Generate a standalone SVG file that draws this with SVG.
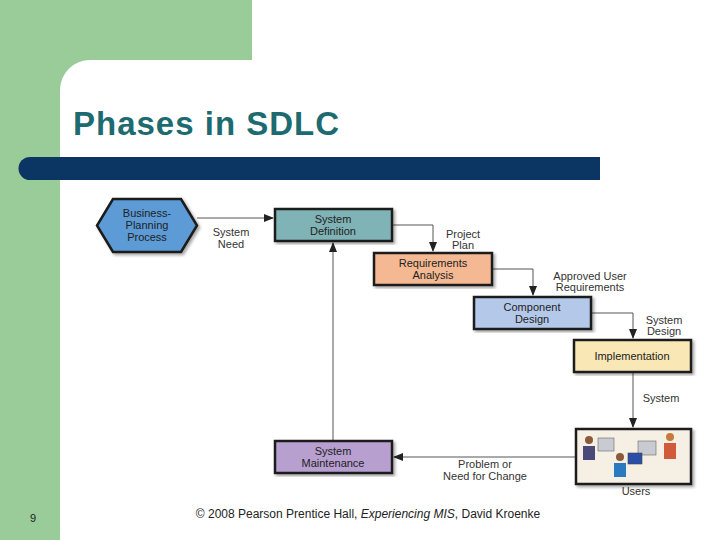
<svg xmlns="http://www.w3.org/2000/svg" width="720" height="540" viewBox="0 0 720 540">
<style>
.n{stroke:#1a1a1a;stroke-width:2.5}
.t{font-family:"Liberation Sans",Arial,sans-serif;font-size:11px;text-anchor:middle;fill:#222}
.l{font-family:"Liberation Sans",Arial,sans-serif;font-size:11px;text-anchor:middle;fill:#333}
.c{fill:none;stroke:#555;stroke-width:1}
</style>
<defs>
<marker id="a" markerWidth="10" markerHeight="8" refX="9" refY="4" orient="auto" markerUnits="userSpaceOnUse"><path d="M0,0L10,4L0,8z" fill="#222"/></marker>
<filter id="s"><feDropShadow dx="2" dy="2" stdDeviation="1.5" flood-opacity="0.35"/></filter>
</defs>
<rect width="720" height="540" fill="#fff"/>
<path d="M0,0H252V60H90A30,30 0 0 0 60,90V540H0Z" fill="#99cc99"/>
<text x="73" y="135" font-family="Liberation Sans,Arial,sans-serif" font-size="33" font-weight="bold" letter-spacing="1" fill="#1d6b70">Phases in SDLC</text>
<path d="M30,157H600V180H30A11.5,11.5 0 0 1 30,157Z" fill="#0b3563"/>
<g id="connectors">
<path class="c" d="M197,218H273" marker-end="url(#a)"/>
<path class="c" d="M392,225H433V251" marker-end="url(#a)"/>
<path class="c" d="M492,269H533V295" marker-end="url(#a)"/>
<path class="c" d="M591,313H633V338" marker-end="url(#a)"/>
<path class="c" d="M633,372V427" marker-end="url(#a)"/>
<path class="c" d="M576,457H394" marker-end="url(#a)"/>
<path class="c" d="M333,441V243" marker-end="url(#a)"/>
<text class="l" x="231" y="236">System</text><text class="l" x="231" y="248">Need</text>
<text class="l" x="463" y="238">Project</text><text class="l" x="463" y="249">Plan</text>
<text class="l" x="590" y="280">Approved User</text><text class="l" x="590" y="291">Requirements</text>
<text class="l" x="664" y="324">System</text><text class="l" x="664" y="335">Design</text>
<text class="l" x="661" y="402">System</text>
<text class="l" x="485" y="468">Problem or</text><text class="l" x="485" y="480">Need for Change</text>
</g>
<g id="bpp"><path class="n" filter="url(#s)" d="M113,199H181L197,225.5L181,252H113L97,225.5Z" fill="#5b9bd5"/>
<text class="t" x="147" y="217">Business-</text><text class="t" x="147" y="229">Planning</text><text class="t" x="147" y="241">Process</text></g>
<g id="sysdef"><rect class="n" filter="url(#s)" x="275" y="209" width="117" height="32" fill="#7fb3b5"/>
<text class="t" x="333" y="223">System</text><text class="t" x="333" y="235">Definition</text></g>
<g id="req"><rect class="n" filter="url(#s)" x="374" y="253" width="118" height="32" fill="#f4b993"/>
<text class="t" x="433" y="267">Requirements</text><text class="t" x="433" y="279">Analysis</text></g>
<g id="comp"><rect class="n" filter="url(#s)" x="474" y="297" width="117" height="32" fill="#b4c9ea"/>
<text class="t" x="532" y="311">Component</text><text class="t" x="532" y="323">Design</text></g>
<g id="impl"><rect class="n" filter="url(#s)" x="574" y="340" width="117" height="32" fill="#f9e8b5"/>
<text class="t" x="632" y="360">Implementation</text></g>
<g id="users"><rect class="n" filter="url(#s)" x="576" y="429" width="115" height="55" fill="#f6efe4"/>
<rect x="598" y="438" width="16" height="13" fill="#c8ccd2" stroke="#666" stroke-width="0.6"/>
<rect x="638" y="441" width="18" height="14" fill="#c8ccd2" stroke="#666" stroke-width="0.6"/>
<rect x="628" y="453" width="14" height="11" fill="#2a4fa8" stroke="#444" stroke-width="0.6"/>
<circle cx="589" cy="440" r="4" fill="#8a5a3a"/><path d="M583,446h12v14h-12z" fill="#4a4a7a"/>
<circle cx="670" cy="437" r="4" fill="#c87a3a"/><path d="M664,443h12v16h-12z" fill="#d05a3a"/>
<circle cx="620" cy="457" r="4" fill="#8a5a3a"/><path d="M614,463h12v14h-12z" fill="#2a7ac0"/>
<text class="l" x="636" y="495">Users</text></g>
<g id="maint"><rect class="n" filter="url(#s)" x="275" y="441" width="117" height="32" fill="#b79fd0"/>
<text class="t" x="333" y="455">System</text><text class="t" x="333" y="467">Maintenance</text></g>
<text x="33" y="522" font-family="Liberation Sans,Arial,sans-serif" font-size="11" fill="#222" text-anchor="middle">9</text>
<text x="368" y="518" font-family="Liberation Sans,Arial,sans-serif" font-size="12" fill="#222" text-anchor="middle">© 2008 Pearson Prentice Hall, <tspan font-style="italic">Experiencing MIS</tspan>, David Kroenke</text>
</svg>
